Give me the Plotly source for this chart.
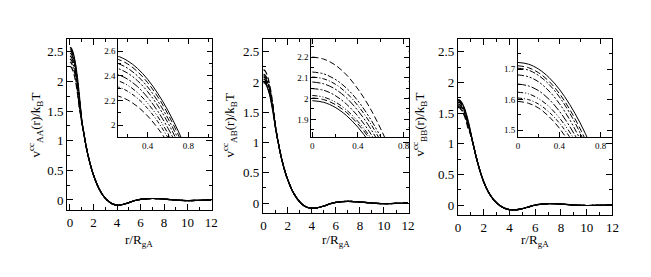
import plotly.graph_objects as go

# ---------------- data ----------------
r_near = [0.0, 0.1, 0.2, 0.3, 0.4, 0.5, 0.6, 0.7, 0.8, 0.9, 1.0]
r_tail = [1.2, 1.4, 1.6, 1.8, 2.0, 2.4, 2.8, 3.2, 3.6, 4.0, 4.4, 5.0, 5.5,
          6.0, 6.5, 7.0, 7.5, 8.0, 9.0, 10.0, 11.0, 12.0]

# panel AA : eight curves near r = 0 (top -> bottom)
aa_near = [
    [2.575, 2.562, 2.524, 2.461, 2.372, 2.257, 2.118, 1.953, 1.762, 1.56, 1.36],
    [2.550, 2.537, 2.499, 2.435, 2.345, 2.230, 2.089, 1.923, 1.731, 1.54, 1.35],
    [2.515, 2.502, 2.464, 2.400, 2.310, 2.195, 2.054, 1.888, 1.696, 1.52, 1.345],
    [2.475, 2.462, 2.424, 2.361, 2.272, 2.158, 2.018, 1.853, 1.662, 1.50, 1.34],
    [2.425, 2.413, 2.375, 2.313, 2.225, 2.113, 1.975, 1.813, 1.625, 1.48, 1.33],
    [2.375, 2.363, 2.326, 2.264, 2.178, 2.068, 1.932, 1.772, 1.588, 1.46, 1.325],
    [2.325, 2.313, 2.277, 2.218, 2.135, 2.028, 1.897, 1.742, 1.563, 1.45, 1.32],
    [2.250, 2.239, 2.206, 2.151, 2.074, 1.975, 1.854, 1.711, 1.546, 1.44, 1.315],
]
aa_tail = [1.10, 0.88, 0.70, 0.55, 0.42, 0.22, 0.08, -0.01, -0.065, -0.085, -0.08,
           -0.045, -0.01, 0.01, 0.02, 0.025, 0.022, 0.015, -0.002, -0.01, -0.006, 0.0]

# panel AB (top -> bottom)
ab_near = [
    [2.200, 2.190, 2.162, 2.114, 2.046, 1.960, 1.854, 1.730, 1.586, 1.42, 1.26],
    [2.128, 2.119, 2.093, 2.050, 1.989, 1.910, 1.815, 1.702, 1.571, 1.41, 1.255],
    [2.104, 2.095, 2.070, 2.027, 1.966, 1.889, 1.794, 1.683, 1.554, 1.40, 1.25],
    [2.080, 2.071, 2.046, 2.003, 1.942, 1.865, 1.770, 1.659, 1.530, 1.39, 1.245],
    [2.048, 2.040, 2.015, 1.973, 1.915, 1.841, 1.749, 1.641, 1.517, 1.385, 1.24],
    [2.015, 2.007, 1.984, 1.945, 1.890, 1.820, 1.734, 1.633, 1.516, 1.38, 1.24],
    [2.003, 1.995, 1.972, 1.933, 1.878, 1.808, 1.722, 1.621, 1.504, 1.375, 1.235],
    [1.990, 1.982, 1.958, 1.918, 1.862, 1.790, 1.702, 1.598, 1.478, 1.36, 1.23],
]
ab_tail = [1.02, 0.82, 0.65, 0.51, 0.39, 0.20, 0.07, -0.02, -0.07, -0.085, -0.08,
           -0.05, -0.015, 0.01, 0.022, 0.027, 0.024, 0.017, 0.0, -0.01, -0.006, 0.0]

# panel BB (top -> bottom)
bb_near = [
    [1.722, 1.7165, 1.700, 1.6725, 1.634, 1.584, 1.524, 1.452, 1.370, 1.28, 1.18],
    [1.711, 1.705, 1.688, 1.660, 1.620, 1.568, 1.505, 1.431, 1.346, 1.265, 1.17],
    [1.703, 1.697, 1.679, 1.650, 1.609, 1.556, 1.491, 1.415, 1.327, 1.25, 1.16],
    [1.681, 1.675, 1.658, 1.628, 1.587, 1.534, 1.470, 1.394, 1.306, 1.24, 1.155],
    [1.651, 1.645, 1.629, 1.601, 1.562, 1.512, 1.452, 1.380, 1.296, 1.235, 1.15],
    [1.624, 1.619, 1.603, 1.577, 1.540, 1.493, 1.436, 1.368, 1.289, 1.23, 1.145],
    [1.605, 1.600, 1.585, 1.559, 1.523, 1.477, 1.421, 1.354, 1.277, 1.22, 1.14],
    [1.594, 1.588, 1.572, 1.544, 1.506, 1.456, 1.395, 1.323, 1.240, 1.20, 1.13],
]
bb_tail = [0.98, 0.80, 0.64, 0.50, 0.38, 0.20, 0.08, 0.0, -0.05, -0.075, -0.08,
           -0.06, -0.03, 0.0, 0.015, 0.022, 0.022, 0.015, 0.0, -0.008, -0.005, 0.0]

x_title = "r/R<sub>gA</sub>"
y_titles = ["v<sup>cc</sup><sub>AA</sub>(r)/k<sub>B</sub>T",
            "v<sup>cc</sup><sub>AB</sub>(r)/k<sub>B</sub>T",
            "v<sup>cc</sup><sub>BB</sub>(r)/k<sub>B</sub>T"]

# ---------------- styles ----------------
W, H = 651, 277
FONT = "Liberation Serif"
dash_aa = ["solid", "6px,3px", "6px,2px,2px,2px", "6px,2px,2px,2px,2px,2px",
           "8px,2px,2px,2px", "5px,2px,1px,2px,1px,2px", "4px,2px,1px,2px", "6px,3px"]
dash_ab = ["6px,3px", "6px,2px,2px,2px,2px,2px", "5px,2px,1px,2px", "8px,2px,2px,2px",
           "6px,2px,2px,2px", "5px,2px,1px,2px,1px,2px", "6px,3px", "solid"]
dash_bb = ["solid", "6px,3px", "6px,2px,2px,2px", "6px,2px,2px,2px,2px,2px",
           "8px,2px,2px,2px", "5px,2px,1px,2px,1px,2px", "4px,2px,1px,2px", "6px,3px"]


def px_x(a, b):
    return [a / W, b / W]


def px_y(top, bottom):
    return [1 - bottom / H, 1 - top / H]


panels = [
    dict(near=aa_near, tail=aa_tail, dash=dash_aa,
         main_dom=(px_x(65, 212), px_y(39, 210)), main_xr=[-0.25, 12.05], main_yr=[-0.169, 2.714],
         ins_dom=(px_x(117, 212), px_y(39, 137)), ins_xr=[0.11, 1.03], ins_yr=[1.904, 2.70],
         ins_ydt=0.2, ins_ymin=0.1, ytitle_x=33),
    dict(near=ab_near, tail=ab_tail, dash=dash_ab,
         main_dom=(px_x(264, 412), px_y(39, 213)), main_xr=[-0.05, 12.05], main_yr=[-0.165, 2.71],
         ins_dom=(px_x(313, 412), px_y(39, 137)), ins_xr=[-0.01, 0.845], ins_yr=[1.815, 2.287],
         ins_ydt=0.1, ins_ymin=0.05, ytitle_x=230),
    dict(near=bb_near, tail=bb_tail, dash=dash_bb,
         main_dom=(px_x(462, 619), px_y(39, 215)), main_xr=[0, 12.0], main_yr=[-0.163, 2.71],
         ins_dom=(px_x(523, 619), px_y(39, 137)), ins_xr=[0, 0.914], ins_yr=[1.477, 1.799],
         ins_ydt=0.1, ins_ymin=0.05, ytitle_x=423),
]

fig = go.Figure()
layout = {}
annotations = []

for i, p in enumerate(panels):
    mi = 2 * i + 1
    ii = 2 * i + 2
    mx = "x" if mi == 1 else f"x{mi}"
    my = "y" if mi == 1 else f"y{mi}"
    ix, iy = f"x{ii}", f"y{ii}"
    for k, vals in enumerate(p["near"]):
        r_full = r_near + r_tail
        v_full = vals + p["tail"]
        fig.add_trace(go.Scatter(x=r_full, y=v_full, mode="lines", xaxis=mx, yaxis=my,
                                 line=dict(color="black", width=1.2, dash=p["dash"][k], shape="spline"),
                                 showlegend=False, hoverinfo="skip"))
        fig.add_trace(go.Scatter(x=r_near, y=vals, mode="lines", xaxis=ix, yaxis=iy,
                                 line=dict(color="black", width=1, dash=p["dash"][k], shape="spline"),
                                 showlegend=False, hoverinfo="skip"))

    common = dict(showline=True, mirror="allticks", linecolor="black", linewidth=1,
                  ticks="inside", tickcolor="black", showgrid=False, zeroline=False)
    axkey = lambda name, n: name if n == 1 else f"{name}{n}"
    layout[axkey("xaxis", mi)] = dict(common, domain=p["main_dom"][0], range=p["main_xr"],
                                      anchor=my, tickvals=[0, 2, 4, 6, 8, 10, 12], ticklen=6,
                                      tickfont=dict(family=FONT, size=13, color="black"),
                                      minor=dict(ticks="inside", ticklen=3, dtick=1, tick0=0,
                                                 tickcolor="black"))
    layout[axkey("yaxis", mi)] = dict(common, domain=p["main_dom"][1], range=p["main_yr"],
                                      anchor=mx, tickvals=[0, 0.5, 1, 1.5, 2, 2.5], ticklen=6,
                                      ticktext=["0", "0.5", "1", "1.5", "2", "2.5"],
                                      tickfont=dict(family=FONT, size=13, color="black"),
                                      minor=dict(ticks="inside", ticklen=3, dtick=0.25, tick0=0,
                                                 tickcolor="black"))
    layout[f"xaxis{ii}"] = dict(common, domain=p["ins_dom"][0], range=p["ins_xr"], anchor=iy,
                                tickvals=[0, 0.4, 0.8], ticktext=["0", "0.4", "0.8"], ticklen=5,
                                tickfont=dict(family=FONT, size=9, color="black"),
                                minor=dict(ticks="inside", ticklen=3, dtick=0.2, tick0=0,
                                           tickcolor="black"))
    layout[f"yaxis{ii}"] = dict(common, domain=p["ins_dom"][1], range=p["ins_yr"], anchor=ix,
                                dtick=p["ins_ydt"], tick0=0, ticklen=5,
                                tickfont=dict(family=FONT, size=9, color="black"),
                                minor=dict(ticks="inside", ticklen=3, dtick=p["ins_ymin"], tick0=0,
                                           tickcolor="black"))
    xc = (p["main_dom"][0][0] + p["main_dom"][0][1]) / 2
    annotations.append(dict(text=x_title, x=xc, y=1 - 240 / H, xref="paper", yref="paper",
                            showarrow=False, xanchor="center", yanchor="middle",
                            font=dict(family=FONT, size=13, color="black")))
    annotations.append(dict(text=y_titles[i], x=p["ytitle_x"] / W, y=1 - 125 / H,
                            xref="paper", yref="paper", showarrow=False, textangle=-90,
                            xanchor="center", yanchor="middle",
                            font=dict(family=FONT, size=13, color="black")))

fig.update_layout(width=W, height=H, margin=dict(l=0, r=0, t=0, b=0),
                  paper_bgcolor="white", plot_bgcolor="white",
                  annotations=annotations, **layout)

fig.write_html("out.html", config={"displayModeBar": False},
               post_script="document.body.style.margin='0';document.body.style.padding='0';")
